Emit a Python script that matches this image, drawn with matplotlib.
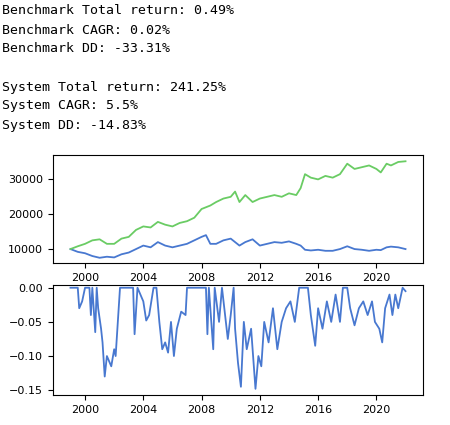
import matplotlib
matplotlib.use("Agg")
import matplotlib.pyplot as plt

years = [1999.0,1999.5,2000.0,2000.5,2001.0,2001.5,2002.0,2002.5,2003.0,2003.5,2004.0,2004.5,2005.0,2005.5,2006.0,2006.5,2007.0,2007.5,2008.0,2008.3,2008.6,2009.0,2009.5,2010.0,2010.3,2010.6,2011.0,2011.5,2012.0,2012.5,2013.0,2013.5,2014.0,2014.5,2014.8,2015.1,2015.5,2016.0,2016.5,2017.0,2017.5,2018.0,2018.5,2019.0,2019.5,2020.0,2020.3,2020.7,2021.0,2021.5,2022.0]
system = [10000,10800,11500,12500,12800,11500,11500,13000,13500,15500,16500,16200,17800,17000,16500,17500,18000,19000,21500,22000,22500,23500,24500,25000,26500,23500,25500,23500,24500,25000,25500,25000,26000,25500,27500,31500,30500,30000,31000,30500,31500,34500,33000,33500,34000,33000,32000,34500,34000,35000,35200]
benchmark = [10000,9200,8800,8000,7500,7800,7600,8500,9000,10000,11000,10500,12000,11000,10500,11000,11500,12500,13500,14000,11500,11500,12500,13000,12000,11000,12000,12800,11000,11500,12000,11800,12200,11500,11000,9800,9600,9800,9500,9500,10000,10800,10000,9800,9500,9800,9700,10500,10700,10500,10000]

dd_x = [1999.0,1999.5,1999.6,1999.8,2000.0,2000.3,2000.4,2000.5,2000.7,2000.8,2000.9,2001.1,2001.2,2001.35,2001.5,2001.8,2002.0,2002.1,2002.4,2003.0,2003.3,2003.4,2003.6,2004.0,2004.2,2004.4,2004.7,2004.9,2005.1,2005.3,2005.5,2005.7,2005.9,2006.1,2006.3,2006.6,2006.9,2007.0,2007.5,2008.0,2008.3,2008.4,2008.5,2008.8,2008.9,2009.2,2009.4,2009.8,2010.0,2010.2,2010.3,2010.5,2010.7,2010.9,2011.1,2011.4,2011.7,2011.9,2012.1,2012.3,2012.6,2012.9,2013.2,2013.5,2013.8,2014.1,2014.4,2014.7,2015.0,2015.3,2015.5,2015.8,2016.0,2016.3,2016.6,2016.9,2017.2,2017.5,2017.7,2018.0,2018.2,2018.5,2018.8,2019.1,2019.4,2019.7,2019.9,2020.2,2020.4,2020.6,2020.9,2021.1,2021.3,2021.5,2021.8,2022.0]
dd = [0,0,-0.03,-0.02,0,0,-0.04,0,-0.065,0,-0.03,-0.06,-0.08,-0.13,-0.10,-0.115,-0.09,-0.1,0,0,0,-0.068,0,-0.02,-0.048,-0.04,0,0,-0.05,-0.09,-0.08,-0.095,-0.05,-0.1,-0.06,-0.035,-0.04,0,0,0,0,-0.068,0,-0.09,0,-0.05,0,-0.075,-0.04,0,-0.06,-0.11,-0.145,-0.05,-0.09,-0.06,-0.148,-0.1,-0.115,-0.05,-0.08,-0.03,-0.09,-0.05,-0.03,-0.02,-0.05,0,0,0,-0.04,-0.085,-0.03,-0.06,-0.02,-0.05,-0.01,-0.05,0,0,-0.03,-0.055,-0.03,-0.02,-0.04,-0.02,-0.05,-0.06,-0.08,-0.03,-0.01,-0.04,-0.01,-0.03,0,-0.005]

lines = ["Benchmark Total return: 0.49%", "Benchmark CAGR: 0.02%", "Benchmark DD: -33.31%", "",
         "System Total return: 241.25%", "System CAGR: 5.5%", "System DD: -14.83%"]

fig = plt.figure(figsize=(4.5, 4.25), dpi=100)
for i, t in enumerate(lines):
    fig.text(0.005, 1 - (11 + 19 * i) / 425, t, family="DejaVu Sans Mono", fontsize=9.5, va="center")

ax1 = fig.add_axes([53/450, 1-263/425, 370/450, 108/425])
ax2 = fig.add_axes([53/450, 1-395/425, 370/450, 110/425])
ax1.plot(years, benchmark, color="#4878d0", lw=1.3)
ax1.plot(years, system, color="#6acc64", lw=1.3)
ax2.plot(dd_x, dd, color="#4878d0", lw=1.3)
ticks = [2000, 2004, 2008, 2012, 2016, 2020]
for ax in (ax1, ax2):
    ax.set_xticks(ticks)
    ax.set_xticklabels([str(t) for t in ticks])
    ax.set_xlim(1997.8, 2023.2)
    ax.tick_params(labelsize=8)
ax1.set_yticks([10000, 20000, 30000])
ax1.set_ylim(6000, 37000)
ax2.set_yticks([0.0, -0.05, -0.10, -0.15])
ax2.set_yticklabels(["0.00", "\u22120.05", "\u22120.10", "\u22120.15"])
ax2.set_ylim(-0.157, 0.004)
fig.savefig("out.png", dpi=100)
